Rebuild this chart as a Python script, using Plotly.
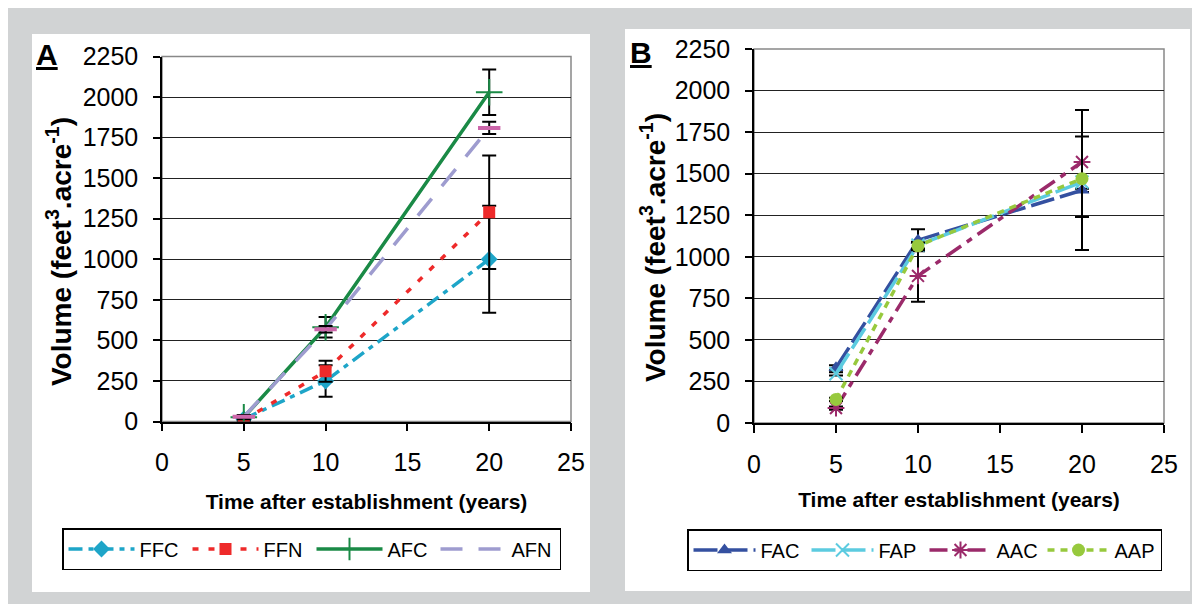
import plotly.graph_objects as go

# the page body keeps its 8px margin, so the figure sits at (8, 8)
FW, FH = 1184, 596
OFF = 8

# ---- data ----
years = [5, 10, 20]

ffc = [15, 250, 1000]
ffc_err = [10, 97, 330]
ffn = [10, 310, 1290]
ffn_err = [10, 65, 350]
afc = [26, 581, 2030]
afc_err = [12, 63, 140]
afn = [30, 569, 1810]
afn_err = [10, 20, 38]

fac = [332, 1100, 1400]
fac_err = [15, 66, 10]
fap = [296, 1070, 1450]
fap_err_up = [10, 20, 433]
fap_err_down = [10, 20, 409]
aac = [90, 885, 1570]
aac_err = [10, 155, 0]
aap = [142, 1066, 1470]
aap_err_up = [10, 20, 253]
aap_err_down = [10, 20, 230]

x_ticks = [0, 5, 10, 15, 20, 25]
y_ticks = [0, 250, 500, 750, 1000, 1250, 1500, 1750, 2000, 2250]


def px_x(v):
    # screen pixel -> paper fraction
    return (v - OFF) / FW


def px_y(v):
    return 1 - (v - OFF) / FH


def err(arr, arr_minus=None):
    d = dict(type='data', array=arr, color='black', thickness=2, width=7)
    if arr_minus is not None:
        d['arrayminus'] = arr_minus
    return d


FONT = 'Liberation Sans, Arial, sans-serif'

fig = go.Figure()

# panel A
fig.add_trace(go.Scatter(
    name='FFC', x=years, y=ffc, mode='lines+markers',
    line=dict(color='#1ea5c8', width=3.5, dash='14px,6px,5px,6px'),
    marker=dict(symbol='diamond', size=13, color='#1ea5c8'),
    error_y=err(ffc_err), xaxis='x', yaxis='y', legend='legend'))
fig.add_trace(go.Scatter(
    name='FFN', x=years, y=ffn, mode='lines+markers',
    line=dict(color='#ee2a2a', width=3.5, dash='6px,10px'),
    marker=dict(symbol='square', size=12, color='#ee2a2a'),
    error_y=err(ffn_err), xaxis='x', yaxis='y', legend='legend'))
fig.add_trace(go.Scatter(
    name='AFC', x=years, y=afc, mode='lines+markers',
    line=dict(color='#1a8a46', width=3.5),
    marker=dict(symbol='cross-thin', size=19, color='#1a8a46',
                line=dict(color='#1a8a46', width=2)),
    error_y=err(afc_err), xaxis='x', yaxis='y', legend='legend'))
fig.add_trace(go.Scatter(
    name='AFN', x=years, y=afn, mode='lines',
    line=dict(color='#9e9ccf', width=3.5, dash='22px,16px'),
    xaxis='x', yaxis='y', legend='legend'))
fig.add_trace(go.Scatter(
    name='AFN', x=years, y=afn, mode='markers', showlegend=False,
    marker=dict(symbol='line-ew', size=16, color='#cc66aa',
                line=dict(color='#cc66aa', width=4)),
    error_y=err(afn_err), xaxis='x', yaxis='y'))

# panel B
fig.add_trace(go.Scatter(
    name='FAC', x=years, y=fac, mode='lines+markers',
    line=dict(color='#3450a0', width=3.5, dash='24px,6px'),
    marker=dict(symbol='triangle-up', size=13, color='#3450a0'),
    error_y=err(fac_err), xaxis='x2', yaxis='y2', legend='legend2'))
fig.add_trace(go.Scatter(
    name='FAP', x=years, y=fap, mode='lines+markers',
    line=dict(color='#5ccbe0', width=3.5, dash='24px,6px'),
    marker=dict(symbol='x-thin', size=13, color='#5ccbe0',
                line=dict(color='#5ccbe0', width=2)),
    error_y=err(fap_err_up, fap_err_down), xaxis='x2', yaxis='y2', legend='legend2'))
fig.add_trace(go.Scatter(
    name='AAC', x=years, y=aac, mode='lines+markers',
    line=dict(color='#9b2a6a', width=3.5, dash='18px,7px,6px,7px'),
    marker=dict(symbol='asterisk', size=14, color='#9b2a6a',
                line=dict(color='#9b2a6a', width=2)),
    error_y=err(aac_err), xaxis='x2', yaxis='y2', legend='legend2'))
fig.add_trace(go.Scatter(
    name='AAP', x=years, y=aap, mode='lines+markers',
    line=dict(color='#97c93d', width=3.5, dash='7px,6px'),
    marker=dict(symbol='circle', size=13, color='#97c93d'),
    error_y=err(aap_err_up, aap_err_down), xaxis='x2', yaxis='y2', legend='legend2'))

tick_font = dict(family=FONT, size=25, color='black')
xtitle_text = '<b>Time after establishment (years)</b>'
xtitle_font = dict(family=FONT, size=21, color='black')
ytitle_text = '<b>Volume (feet<sup>3</sup>.acre<sup>-1</sup>)</b>'
ytitle_font = dict(family=FONT, size=28, color='black')

xcommon = dict(range=[0, 25], tickvals=x_ticks, ticks='outside', ticklen=8,
               tickcolor='black', tickwidth=1.5, showline=True, linecolor='black',
               linewidth=1.5, showgrid=False, zeroline=False, tickfont=tick_font,
               ticklabelstandoff=10, automargin=False)
ycommon = dict(range=[0, 2250], tickvals=y_ticks, ticks='outside', ticklen=7,
               tickcolor='black', tickwidth=1.5, showline=True, linecolor='black',
               linewidth=1.5, showgrid=True, gridcolor='#222', gridwidth=1,
               zeroline=False, tickfont=tick_font, ticklabelstandoff=10,
               automargin=False)

legend_common = dict(orientation='h', xanchor='left', yanchor='middle',
                     bordercolor='black', borderwidth=1.5, bgcolor='white',
                     font=dict(family=FONT, size=20, color='black'),
                     tracegroupgap=0)

fig.update_layout(
    template='none',
    width=FW, height=FH,
    margin=dict(l=0, r=0, t=0, b=0),
    paper_bgcolor='#d1d3d4', plot_bgcolor='rgba(0,0,0,0)',
    showlegend=True,
    xaxis=dict(xcommon, domain=[px_x(162), px_x(571)], anchor='y',
               title=dict(text=xtitle_text, font=xtitle_font, standoff=19)),
    yaxis=dict(ycommon, domain=[px_y(421.5), px_y(56.5)], anchor='x'),
    xaxis2=dict(xcommon, domain=[px_x(754), px_x(1164)], anchor='y2',
                title=dict(text=xtitle_text, font=xtitle_font, standoff=16)),
    yaxis2=dict(ycommon, domain=[px_y(423), px_y(49)], anchor='x2'),
    legend=dict(legend_common, x=px_x(62), y=px_y(549),
                itemwidth=66, entrywidth=43),
    legend2=dict(legend_common, x=px_x(687), y=px_y(550),
                 itemwidth=62, entrywidth=41),
    shapes=[
        dict(type='rect', xref='paper', yref='paper', x0=px_x(32), x1=px_x(590),
             y0=px_y(592), y1=px_y(34), fillcolor='white', line_width=0, layer='below'),
        dict(type='rect', xref='paper', yref='paper', x0=px_x(625), x1=px_x(1190),
             y0=px_y(591), y1=px_y(29), fillcolor='white', line_width=0, layer='below'),
        dict(type='rect', xref='x domain', yref='y domain', x0=0, x1=1, y0=0, y1=1,
             line=dict(color='#888', width=1.5), layer='below'),
        dict(type='rect', xref='x2 domain', yref='y2 domain', x0=0, x1=1, y0=0, y1=1,
             line=dict(color='#888', width=1.5), layer='below'),
    ],
    annotations=[
        dict(text='<b><u>A</u></b>', xref='paper', yref='paper', x=px_x(34), y=px_y(36),
             xanchor='left', yanchor='top', showarrow=False,
             font=dict(family=FONT, size=30, color='black')),
        dict(text='<b><u>B</u></b>', xref='paper', yref='paper', x=px_x(628), y=px_y(34),
             xanchor='left', yanchor='top', showarrow=False,
             font=dict(family=FONT, size=30, color='black')),
        dict(text=ytitle_text, xref='paper', yref='paper', x=px_x(59), y=px_y(252),
             xanchor='center', yanchor='middle', textangle=-90, showarrow=False,
             font=ytitle_font),
        dict(text=ytitle_text, xref='paper', yref='paper', x=px_x(653), y=px_y(248),
             xanchor='center', yanchor='middle', textangle=-90, showarrow=False,
             font=ytitle_font),
    ],
)

fig.write_html("out.html")
